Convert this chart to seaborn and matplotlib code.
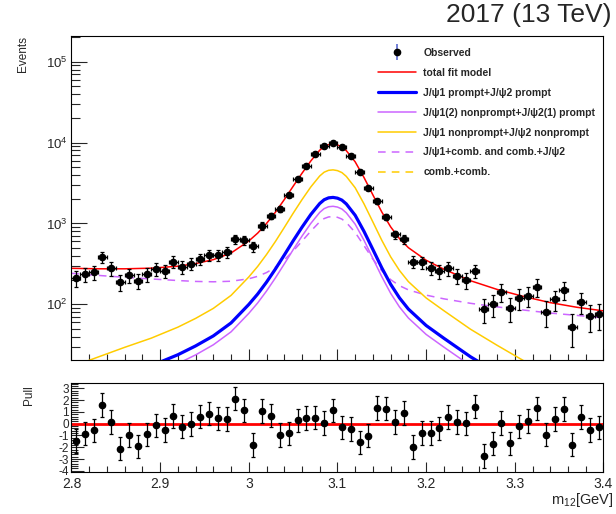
# di-J/psi mass fit, 2017 data, with pull panel
import numpy as np
import matplotlib
matplotlib.use('Agg')
import matplotlib.pyplot as plt
import seaborn as sns
from matplotlib.lines import Line2D
from matplotlib.legend_handler import HandlerTuple
from matplotlib.ticker import MultipleLocator, LogLocator, NullFormatter, FuncFormatter

# observed candidates in 0.01 GeV bins (bin centres)
m_obs = np.round(np.arange(2.805, 3.4, 0.01), 3)
n_obs = [210, 235, 249, 381, 279, 190, 230, 196, 237, 275,
         260, 336, 289, 318, 363, 407, 407, 443, 636, 624,
         521, 937, 1234, 1506, 2264, 3509, 5118, 7262, 9063, 9953,
         8732, 6808, 4355, 2718, 1893, 1211, 733, 641, 336, 331,
         281, 258, 279, 224, 200, 260, 87, 100, 143, 90,
         119, 127, 164, 81, 115, 150, 53, 108, 72, 75]
err_obs = [45, 48, 49, 61, 52, 43, 47, 43, 48, 51,
           50, 57, 53, 55, 59, 63, 63, 65, 78, 77,
           71, 95, 109, 120, 148, 184, 222, 264, 295, 309,
           290, 256, 205, 162, 135, 108, 84, 78, 57, 56,
           52, 50, 52, 46, 44, 50, 29, 31, 37, 29,
           34, 35, 40, 28, 33, 38, 23, 32, 26, 27]
pull = [-1.47, -0.85, -0.57, 1.56, 0.14, -2.12, -0.96, -1.93, -0.91, -0.14,
        -0.54, 0.65, -0.25, -0.05, 0.59, 0.85, 0.45, 0.40, 2.12, 1.13,
        -1.81, 1.08, 0.68, -0.96, -0.82, 0.28, 0.48, 0.51, 0.06, 1.13,
        -0.31, -0.45, -1.59, -1.02, 1.33, 1.27, 0.14, 0.91, -1.98, -0.79,
        -0.79, -0.40, 0.57, 0.14, 0.03, 1.44, -2.72, -1.70, 0.06, -1.67,
        -0.23, 0.23, 1.30, -0.93, 0.40, 1.22, -1.78, 0.57, -0.54, -0.31]

# fit model components
m_fit = [2.80, 2.83, 2.86, 2.89, 2.92, 2.94, 2.96, 2.98, 3.00, 3.01,
         3.02, 3.03, 3.04, 3.05, 3.06, 3.07, 3.08, 3.085, 3.09, 3.095,
         3.10, 3.105, 3.11, 3.12, 3.13, 3.14, 3.15, 3.16, 3.17, 3.18,
         3.20, 3.22, 3.25, 3.28, 3.31, 3.34, 3.37, 3.40]
total_fit = [279, 275, 275, 280, 296, 319, 357, 431, 607, 759,
             999, 1375, 1970, 2878, 4171, 5937, 8050, 8950, 9430, 9550,
             9350, 8850, 7950, 5780, 3692, 2253, 1387, 908, 648, 502,
             351, 272, 196, 153, 125, 105, 92, 83]
prompt_prompt = [7.7, 10.2, 13.4, 17.4, 23.8, 30.6, 40.7, 58.9, 99.6, 134,
                 188, 273, 406, 609, 898, 1293, 1764, 1965, 2073, 2100,
                 2055, 1944, 1744, 1261, 796, 476, 283, 177, 120, 87.4,
                 54.8, 38.1, 22.5, 14.2, 9.2, 5.9, 4.0, 3.0]
nonprompt_prompt = [6.0, 7.9, 10.4, 13.5, 18.5, 23.7, 31.6, 45.7, 77.3, 104,
                    146, 212, 315, 473, 697, 1003, 1370, 1526, 1609, 1630,
                    1595, 1509, 1354, 979, 618, 369, 220, 137, 92.7, 67.8,
                    42.5, 29.6, 17.5, 11.0, 7.1, 4.6, 3.1, 2.3]
nonprompt_nonprompt = [16.9, 22.3, 29.4, 38.2, 52.2, 67.0, 89.1, 129, 218, 294,
                       413, 598, 890, 1335, 1968, 2832, 3865, 4305, 4540, 4600,
                       4502, 4259, 3820, 2761, 1743, 1042, 620, 387, 262, 191,
                       120, 83.5, 49.3, 31.2, 20.1, 12.8, 8.8, 6.6]
jpsi_comb = [242, 228, 216, 206, 197, 192, 190, 193, 207, 222,
             247, 287, 354, 456, 603, 805, 1047, 1150, 1204, 1217,
             1192, 1133, 1028, 774, 531, 362, 260, 202, 170, 151,
             130, 117, 103, 93, 85, 78, 73, 68]
comb_comb = [6.0, 5.8, 5.6, 5.4, 5.2, 5.1, 5.0, 4.9, 4.8, 4.7,
             4.7, 4.6, 4.6, 4.5, 4.5, 4.4, 4.4, 4.4, 4.4, 4.4,
             4.4, 4.4, 4.4, 4.3, 4.3, 4.3, 4.2, 4.2, 4.2, 4.1,
             4.1, 4.0, 3.9, 3.8, 3.7, 3.6, 3.5, 3.4]

labels = ['Observed', 'total fit model',
          'J/\u03c81 prompt+J/\u03c82 prompt',
          'J/\u03c81(2) nonprompt+J/\u03c82(1) prompt',
          'J/\u03c81 nonprompt+J/\u03c82 nonprompt',
          'J/\u03c81+comb. and comb.+J/\u03c82',
          'comb.+comb.']

sns.set_theme(style='ticks')
plt.rcParams['font.family'] = ['Liberation Sans', 'DejaVu Sans']
plt.rcParams['mathtext.fontset'] = 'custom'
plt.rcParams['mathtext.rm'] = 'Liberation Sans'
plt.rcParams['mathtext.it'] = 'Liberation Sans:italic'
plt.rcParams['mathtext.bf'] = 'Liberation Sans:bold'
plt.rcParams['axes.unicode_minus'] = False
plt.rcParams['axes.linewidth'] = 0.8
plt.rcParams['axes.edgecolor'] = 'black'

c_red, c_blue, c_violet, c_yellow = '#ff0000', '#0000ff', '#cc66ff', '#ffcc00'

fig = plt.figure(figsize=(6.16, 5.14), dpi=100)
ax = fig.add_axes([0.1160, 0.2996, 0.8636, 0.6304])
axp = fig.add_axes([0.1160, 0.0817, 0.8636, 0.1732])

# model curves
sns.lineplot(x=m_fit, y=comb_comb, ax=ax, color=c_yellow, lw=1.1,
             linestyle=(0, (5, 4)), estimator=None, sort=False)
sns.lineplot(x=m_fit, y=jpsi_comb, ax=ax, color=c_violet, lw=1.1,
             linestyle=(0, (5, 4)), estimator=None, sort=False)
sns.lineplot(x=m_fit, y=nonprompt_nonprompt, ax=ax, color=c_yellow, lw=1.1,
             estimator=None, sort=False)
sns.lineplot(x=m_fit, y=nonprompt_prompt, ax=ax, color=c_violet, lw=1.1,
             estimator=None, sort=False)
sns.lineplot(x=m_fit, y=prompt_prompt, ax=ax, color=c_blue, lw=2.3,
             estimator=None, sort=False)
sns.lineplot(x=m_fit, y=total_fit, ax=ax, color=c_red, lw=1.1,
             estimator=None, sort=False)

# data
ax.errorbar(m_obs, n_obs, yerr=err_obs, xerr=0.005, fmt='o', color='black',
            ms=4.5, lw=0.9, capsize=1.3, capthick=0.9, zorder=5)

ax.set_yscale('log')
ax.set_xlim(2.8, 3.4)
ax.set_ylim(20.5, 2.08e5)
ax.yaxis.set_major_locator(LogLocator(base=10))
ax.yaxis.set_minor_locator(LogLocator(base=10, subs=np.arange(2, 10)))
ax.yaxis.set_minor_formatter(NullFormatter())
ax.xaxis.set_major_locator(MultipleLocator(0.1))
ax.xaxis.set_minor_locator(MultipleLocator(0.02))
ax.tick_params(axis='y', which='major', direction='in', length=11.5, width=0.8,
               labelsize=9.5, pad=3, right=False)
ax.tick_params(axis='y', which='minor', direction='in', length=6.5, width=0.8, right=False)
ax.tick_params(axis='x', which='major', direction='in', length=8, width=0.8,
               labelbottom=False, top=False)
ax.tick_params(axis='x', which='minor', direction='in', length=4.3, width=0.8, top=False)
ax.set_xlabel('')
ax.set_ylabel('')

# pull panel
axp.axhline(0, color=c_red, lw=2, zorder=2)
axp.errorbar(m_obs, pull, yerr=1.0, fmt='o', color='black', ms=4.5, lw=0.9,
             capsize=1.3, capthick=0.9, zorder=5)
axp.set_xlim(2.8, 3.4)
axp.set_ylim(-4.1, 3.45)
axp.yaxis.set_major_locator(MultipleLocator(1))
axp.yaxis.set_minor_locator(MultipleLocator(0.2))
axp.xaxis.set_major_locator(MultipleLocator(0.1))
axp.xaxis.set_minor_locator(MultipleLocator(0.02))
axp.xaxis.set_major_formatter(FuncFormatter(lambda v, p: '%g' % round(v, 2)))
axp.tick_params(axis='y', which='major', direction='in', length=9, width=0.8,
                labelsize=8.5, pad=2, right=False)
axp.tick_params(axis='y', which='minor', direction='in', length=5, width=0.8, right=False)
axp.tick_params(axis='x', which='major', direction='in', length=7, width=0.8,
                labelsize=10, pad=3.5, top=False)
axp.tick_params(axis='x', which='minor', direction='in', length=4, width=0.8, top=False)

# texts
fig.text(23 / 616, 1 - 36 / 514, 'Events', rotation=90, ha='center', va='top', fontsize=8.5)
fig.text(29 / 616, 1 - 385 / 514, 'Pull', rotation=90, ha='center', va='top', fontsize=8.5)
fig.text(613 / 616, 1 - 504 / 514, r'm$_{12}$[GeV]', ha='right', va='baseline', fontsize=10.5)
fig.text(612 / 616, 1 - 22 / 514, '2017 (13 TeV)', ha='right', va='baseline', fontsize=19)

# legend
handles = [
    (Line2D([], [], marker='|', ms=11, mew=1.2, color='#5a6ad0', ls='none'),
     Line2D([], [], marker='o', ms=4.5, color='black', ls='none')),
    Line2D([], [], color=c_red, lw=1.1),
    Line2D([], [], color=c_blue, lw=2.3),
    Line2D([], [], color=c_violet, lw=1.1),
    Line2D([], [], color=c_yellow, lw=1.1),
    Line2D([], [], color=c_violet, lw=1.1, ls=(0, (5, 4))),
    Line2D([], [], color=c_yellow, lw=1.1, ls=(0, (5, 4))),
]
fig.legend(handles, labels, loc='upper left', bbox_to_anchor=(378 / 616, 1 - 48 / 514),
           frameon=False, prop={'weight': 'bold', 'size': 7.5},
           handlelength=3.6, handletextpad=0.75, labelspacing=0.95,
           borderpad=0, borderaxespad=0,
           handler_map={tuple: HandlerTuple(ndivide=1)})

fig.savefig('out.png', dpi=100)
